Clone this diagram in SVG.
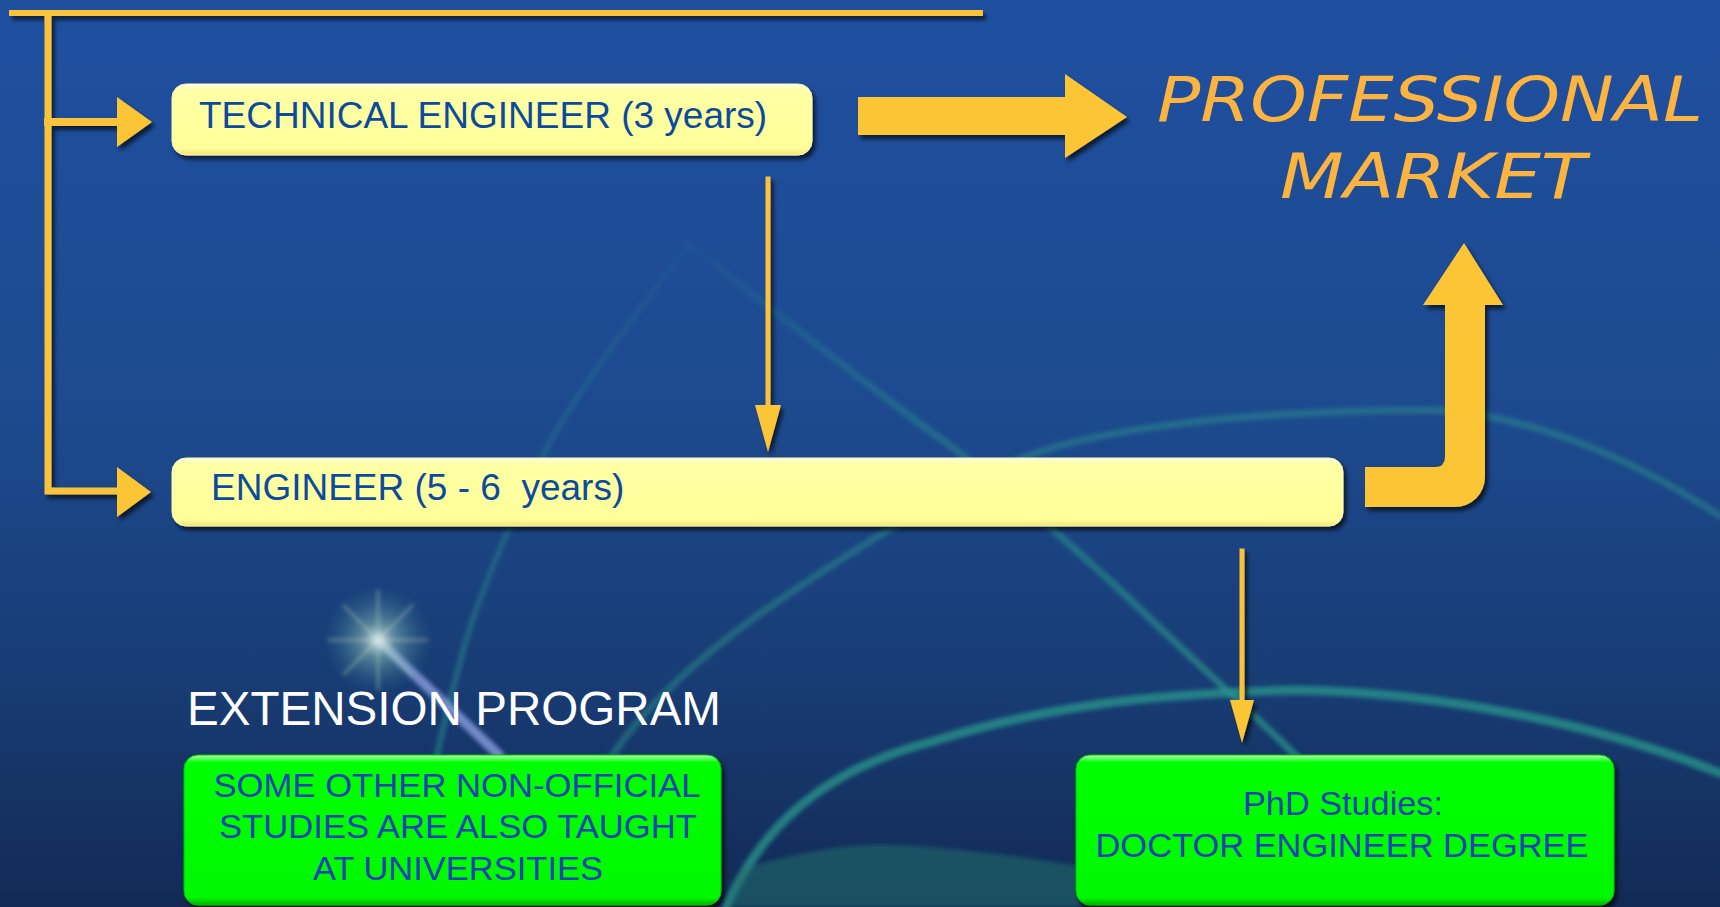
<svg xmlns="http://www.w3.org/2000/svg" width="1720" height="907" viewBox="0 0 1720 907">
<defs>
  <linearGradient id="bg" x1="0" y1="0" x2="0" y2="1">
    <stop offset="0" stop-color="#1f50a0"/>
    <stop offset="0.45" stop-color="#1d4a8f"/>
    <stop offset="0.75" stop-color="#183c74"/>
    <stop offset="1" stop-color="#122a55"/>
  </linearGradient>
  <linearGradient id="yel" x1="0" y1="0" x2="0" y2="1">
    <stop offset="0" stop-color="#fffff0"/>
    <stop offset="0.08" stop-color="#ffffa6"/>
    <stop offset="0.9" stop-color="#ffff9a"/>
    <stop offset="1" stop-color="#f2e47a"/>
  </linearGradient>
  <linearGradient id="grn" x1="0" y1="0" x2="0" y2="1">
    <stop offset="0" stop-color="#b8ffb8"/>
    <stop offset="0.05" stop-color="#00ff00"/>
    <stop offset="0.95" stop-color="#00f800"/>
    <stop offset="1" stop-color="#00b000"/>
  </linearGradient>
  <linearGradient id="fadeC" gradientUnits="userSpaceOnUse" x1="690" y1="245" x2="1300" y2="760">
    <stop offset="0" stop-color="#2a9a8c" stop-opacity="0.05"/>
    <stop offset="0.35" stop-color="#2a9a8c" stop-opacity="0.4"/>
    <stop offset="1" stop-color="#2a9a8c" stop-opacity="0.7"/>
  </linearGradient>
  <linearGradient id="fadeD" gradientUnits="userSpaceOnUse" x1="690" y1="245" x2="436" y2="760">
    <stop offset="0" stop-color="#2a9a8c" stop-opacity="0.05"/>
    <stop offset="0.5" stop-color="#2a9a8c" stop-opacity="0.3"/>
    <stop offset="1" stop-color="#2a9a8c" stop-opacity="0.5"/>
  </linearGradient>
  <radialGradient id="star" cx="0.5" cy="0.5" r="0.5">
    <stop offset="0" stop-color="#e8f0ff" stop-opacity="0.95"/>
    <stop offset="0.3" stop-color="#9fd0c0" stop-opacity="0.5"/>
    <stop offset="1" stop-color="#2a7a8a" stop-opacity="0"/>
  </radialGradient>
  <filter id="sh" x="-10%" y="-30%" width="120%" height="160%">
    <feDropShadow dx="3" dy="4" stdDeviation="2" flood-color="#000" flood-opacity="0.65"/>
  </filter>
  <filter id="blur" x="-20%" y="-20%" width="140%" height="140%">
    <feGaussianBlur stdDeviation="2"/>
  </filter>
</defs>
<style>
  .gold { fill: #fcc535; }
  .goldline { stroke: #f9c23c; fill: none; stroke-linecap: square; }
  .deco { fill: none; stroke: #2a9a8c; stroke-linecap: round; }
  .ybox { fill: url(#yel); stroke: #fff6b0; stroke-width: 1; }
  .gbox { fill: url(#grn); stroke: #00c000; stroke-width: 1; }
  .ytext { font-family: "Liberation Sans", Arial, sans-serif; font-size: 37px; fill: #0b4a9e; }
  .gtext { font-family: "Liberation Sans", Arial, sans-serif; font-size: 33px; fill: #1f42b2; text-anchor: middle; }
  .market { font-family: "DejaVu Sans", "Liberation Sans", sans-serif; font-weight: 200; font-size: 62px; font-style: italic; fill: #fdb33f; text-anchor: middle; }
  .ext { font-family: "Liberation Sans", Arial, sans-serif; font-size: 48px; fill: #ffffff; }
</style>

<rect x="0" y="0" width="1720" height="907" fill="url(#bg)"/>

<g id="background-decoration" filter="url(#blur)">
  <path class="deco" d="M726,907 C760,830 820,770 934,741 C1050,705 1150,694 1296,690 C1440,692 1600,725 1720,773" stroke-width="9" stroke-opacity="0.75"/>
  <path class="deco" d="M572,831 C600,760 650,690 771,606 C860,545 950,490 1025,457 C1100,428 1250,410 1432,410 C1520,414 1620,450 1720,516" stroke-width="7" stroke-opacity="0.45"/>
  <path d="M690,245 C760,300 860,380 934,434 C1000,480 1100,570 1160,628 C1210,675 1260,720 1300,760" fill="none" stroke="url(#fadeC)" stroke-width="7" stroke-linecap="round"/>
  <path d="M690,245 C620,330 560,420 545,452 C520,500 480,590 463,651 C450,700 440,740 436,760" fill="none" stroke="url(#fadeD)" stroke-width="6" stroke-linecap="round"/>
  <path d="M726,907 L740,870 C800,850 860,842 900,845 C960,848 1030,858 1080,866 L1080,907 Z" fill="#1f6f6a" fill-opacity="0.55"/>
  <path d="M378,640 L499,755" stroke="#8a9ee0" stroke-width="10" stroke-linecap="round" stroke-opacity="0.8"/>
  <circle cx="378" cy="640" r="55" fill="url(#star)"/>
  <path d="M378,590 L378,690 M328,640 L428,640 M343,605 L413,675 M413,605 L343,675" stroke="#cfe8c8" stroke-width="1.5" stroke-opacity="0.6"/>
</g>

<g id="connectors" filter="url(#sh)">
  <path class="goldline" d="M12,13 H980" stroke-width="6"/>
  <path class="goldline" d="M48,14 V491 H118" stroke-width="7"/>
  <path class="goldline" d="M48,122 H118" stroke-width="8"/>
  <polygon class="gold" points="117,97 152,122 117,147"/>
  <polygon class="gold" points="117,467 151,492 117,517"/>
  <path class="goldline" d="M768,179 V410" stroke-width="5"/>
  <polygon class="gold" points="755,405 781,405 768,452"/>
  <path class="goldline" d="M1242,551 V705" stroke-width="5"/>
  <polygon class="gold" points="1230,700 1254,700 1242,743"/>
  <polygon class="gold" points="858,97 1065,97 1065,74 1127,117 1065,158 1065,135 858,135"/>
  <path class="gold" d="M1365,467 H1435 Q1445,467 1445,457 V305 H1423 L1464,243 L1503,305 H1485 V477 A30,30 0 0 1 1455,507 H1365 Z"/>
</g>

<g id="technical-engineer">
  <rect class="ybox" x="172" y="84" width="640" height="71" rx="14" filter="url(#sh)"/>
  <text class="ytext" x="199" y="128">TECHNICAL ENGINEER (3 years)</text>
</g>

<g id="engineer">
  <rect class="ybox" x="172" y="458" width="1171" height="68" rx="14" filter="url(#sh)"/>
  <text class="ytext" x="211" y="500" xml:space="preserve">ENGINEER (5 - 6  years)</text>
</g>

<g id="professional-market">
  <text class="market" x="1430" y="121" textLength="546" lengthAdjust="spacingAndGlyphs">PROFESSIONAL</text>
  <text class="market" x="1433" y="198" textLength="306" lengthAdjust="spacingAndGlyphs">MARKET</text>
</g>

<g id="extension-program">
  <text class="ext" x="187" y="725" textLength="534" lengthAdjust="spacingAndGlyphs">EXTENSION PROGRAM</text>
  <rect class="gbox" x="184" y="755" width="537" height="150" rx="14" filter="url(#sh)"/>
  <text class="gtext" x="457" y="797" textLength="487" lengthAdjust="spacingAndGlyphs">SOME OTHER NON-OFFICIAL</text>
  <text class="gtext" x="458" y="838" textLength="478" lengthAdjust="spacingAndGlyphs">STUDIES ARE ALSO TAUGHT</text>
  <text class="gtext" x="458" y="880" textLength="290" lengthAdjust="spacingAndGlyphs">AT UNIVERSITIES</text>
</g>

<g id="phd-studies">
  <rect class="gbox" x="1076" y="755" width="538" height="150" rx="14" filter="url(#sh)"/>
  <text class="gtext" x="1343" y="815" textLength="200" lengthAdjust="spacingAndGlyphs">PhD Studies:</text>
  <text class="gtext" x="1342" y="857" textLength="493" lengthAdjust="spacingAndGlyphs">DOCTOR ENGINEER DEGREE</text>
</g>
</svg>
